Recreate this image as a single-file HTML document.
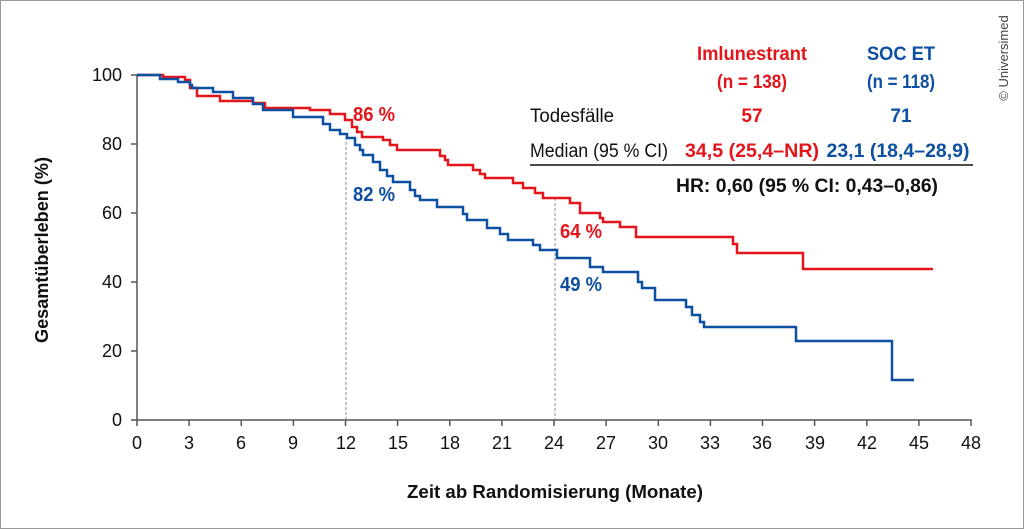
<!DOCTYPE html>
<html><head><meta charset="utf-8"><style>
html,body{margin:0;padding:0;background:#fff}
svg{display:block}
text{font-family:"Liberation Sans Narrow","Liberation Sans",sans-serif}
</style></head><body>
<svg width="1024" height="529" viewBox="0 0 1024 529" xmlns="http://www.w3.org/2000/svg">
<rect x="0.5" y="0.5" width="1023" height="528" fill="#fff" stroke="#999" stroke-width="1"/>
<g stroke="#555" stroke-width="1.5" fill="none">
<line x1="137" y1="75" x2="137" y2="420"/>
<line x1="137" y1="420" x2="972" y2="420"/>
<line x1="131" y1="75" x2="137" y2="75"/><line x1="131" y1="144" x2="137" y2="144"/><line x1="131" y1="213" x2="137" y2="213"/><line x1="131" y1="282" x2="137" y2="282"/><line x1="131" y1="351" x2="137" y2="351"/><line x1="131" y1="420" x2="137" y2="420"/>
<line x1="137" y1="420" x2="137" y2="426"/><line x1="189.1" y1="420" x2="189.1" y2="426"/><line x1="241.3" y1="420" x2="241.3" y2="426"/><line x1="293.4" y1="420" x2="293.4" y2="426"/><line x1="345.5" y1="420" x2="345.5" y2="426"/><line x1="397.6" y1="420" x2="397.6" y2="426"/><line x1="449.8" y1="420" x2="449.8" y2="426"/><line x1="501.9" y1="420" x2="501.9" y2="426"/><line x1="554" y1="420" x2="554" y2="426"/><line x1="606.1" y1="420" x2="606.1" y2="426"/><line x1="658.3" y1="420" x2="658.3" y2="426"/><line x1="710.4" y1="420" x2="710.4" y2="426"/><line x1="762.5" y1="420" x2="762.5" y2="426"/><line x1="814.6" y1="420" x2="814.6" y2="426"/><line x1="866.8" y1="420" x2="866.8" y2="426"/><line x1="918.9" y1="420" x2="918.9" y2="426"/><line x1="971" y1="420" x2="971" y2="426"/>
</g>
<g stroke="#888" stroke-width="1" stroke-dasharray="3,2">
<line x1="346" y1="137" x2="346" y2="420"/>
<line x1="555" y1="198" x2="555" y2="420"/>
</g>
<g font-size="18" fill="#111" text-anchor="end">
<text x="122" y="81">100</text><text x="122" y="150">80</text><text x="122" y="219">60</text><text x="122" y="288">40</text><text x="122" y="357">20</text><text x="122" y="426">0</text>
</g>
<g font-size="18" fill="#111" text-anchor="middle">
<text x="137" y="449">0</text><text x="189" y="449">3</text><text x="241" y="449">6</text><text x="293" y="449">9</text><text x="346" y="449">12</text><text x="398" y="449">15</text><text x="450" y="449">18</text><text x="502" y="449">21</text><text x="554" y="449">24</text><text x="606" y="449">27</text><text x="658" y="449">30</text><text x="710" y="449">33</text><text x="762" y="449">36</text><text x="815" y="449">39</text><text x="867" y="449">42</text><text x="919" y="449">45</text><text x="971" y="449">48</text>
</g>
<text x="555" y="498" font-size="18" font-weight="bold" text-anchor="middle" fill="#111" textLength="296" lengthAdjust="spacingAndGlyphs">Zeit ab Randomisierung (Monate)</text>
<text transform="translate(48,250) rotate(-90)" font-size="18" font-weight="bold" text-anchor="middle" fill="#111" textLength="186" lengthAdjust="spacingAndGlyphs">Gesamtüberleben (%)</text>
<text transform="translate(1008,58) rotate(-90)" font-size="13" text-anchor="middle" fill="#444">© Universimed</text>
<polyline fill="none" stroke="#e3151b" stroke-width="2.5" points="137,75 163,75 163,77 185,77 185,80 190,80 190,88 197,88 197,96 220,96 220,101 253,101 253,103 265,103 265,108 310,108 310,110 330,110 330,114 345,114 345,120 352,120 352,127 357,127 357,132 362,132 362,137 383,137 383,140 390,140 390,145 397,145 397,150 440,150 440,156 445,156 445,160 448,160 448,165 473,165 473,170 480,170 480,174 485,174 485,178 513,178 513,183 523,183 523,188 535,188 535,193 543,193 543,198 570,198 570,203 580,203 580,213 600,213 600,218 603,218 603,222 620,222 620,227 636,227 636,237 733,237 733,244 737,244 737,253 803,253 803,269 933,269"/>
<polyline fill="none" stroke="#0d4fa0" stroke-width="2.5" points="137,75 160,75 160,79 178,79 178,82 190,82 190,85 192,85 192,88 213,88 213,92 233,92 233,98 253,98 253,104 263,104 263,110 293,110 293,117 323,117 323,124 330,124 330,130 340,130 340,134 347,134 347,138 355,138 355,145 360,145 360,150 363,150 363,155 373,155 373,162 380,162 380,170 387,170 387,176 393,176 393,182 410,182 410,190 415,190 415,196 420,196 420,200 437,200 437,207 463,207 463,214 467,214 467,220 487,220 487,228 500,228 500,234 508,234 508,240 533,240 533,245 540,245 540,250 557,250 557,258 590,258 590,267 603,267 603,272 638,272 638,282 642,282 642,288 655,288 655,300 686,300 686,307 692,307 692,315 700,315 700,322 704,322 704,327 796,327 796,341 892,341 892,380 914,380"/>
<g font-size="20" font-weight="bold">
<text x="353" y="121" fill="#e3151b" textLength="42" lengthAdjust="spacingAndGlyphs">86 %</text>
<text x="353" y="201" fill="#0d4fa0" textLength="42" lengthAdjust="spacingAndGlyphs">82 %</text>
<text x="560" y="238" fill="#e3151b" textLength="42" lengthAdjust="spacingAndGlyphs">64 %</text>
<text x="560" y="291" fill="#0d4fa0" textLength="42" lengthAdjust="spacingAndGlyphs">49 %</text>
</g>
<g font-size="19" font-weight="bold" text-anchor="middle">
<text x="752" y="60" fill="#e3151b" textLength="110" lengthAdjust="spacingAndGlyphs">Imlunestrant</text>
<text x="752" y="88" fill="#e3151b" textLength="70" lengthAdjust="spacingAndGlyphs">(n = 138)</text>
<text x="901" y="60" fill="#0d4fa0" textLength="68" lengthAdjust="spacingAndGlyphs">SOC ET</text>
<text x="901" y="88" fill="#0d4fa0" textLength="68" lengthAdjust="spacingAndGlyphs">(n = 118)</text>
<text x="752" y="122" fill="#e3151b">57</text>
<text x="901" y="122" fill="#0d4fa0">71</text>
<text x="752" y="157" fill="#e3151b" textLength="134" lengthAdjust="spacingAndGlyphs">34,5 (25,4–NR)</text>
<text x="898" y="157" fill="#0d4fa0" textLength="143" lengthAdjust="spacingAndGlyphs">23,1 (18,4–28,9)</text>
<text x="807" y="192" fill="#111" textLength="262" lengthAdjust="spacingAndGlyphs">HR: 0,60 (95 % CI: 0,43–0,86)</text>
</g>
<g font-size="19" fill="#111">
<text x="530" y="122" textLength="84" lengthAdjust="spacingAndGlyphs">Todesfälle</text>
<text x="530" y="157" textLength="138" lengthAdjust="spacingAndGlyphs">Median (95 % CI)</text>
</g>
<line x1="530" y1="165" x2="973" y2="165" stroke="#111" stroke-width="1.5"/>
</svg>
</body></html>
